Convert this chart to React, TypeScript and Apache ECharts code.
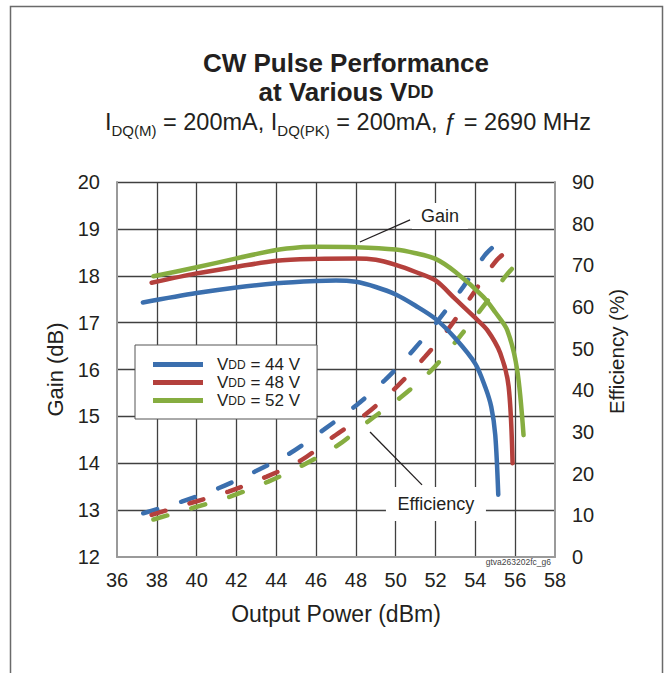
import React, { useEffect, useRef } from "react";
import * as echarts from "echarts";

// ---- data ----
const gain44X = [37.3, 40, 42, 44, 46, 47, 48, 49, 50, 51, 52, 53, 54, 54.5, 54.8, 55.0, 55.15];
const gain44Y = [17.43, 17.63, 17.75, 17.84, 17.89, 17.9, 17.87, 17.76, 17.6, 17.36, 17.08, 16.66, 16.12, 15.62, 15.2, 14.6, 13.33];

const gain48X = [37.74, 40, 42, 44, 46, 48, 49, 50, 51, 52, 53, 54, 54.6, 55.25, 55.67, 55.87];
const gain48Y = [17.85, 18.05, 18.19, 18.32, 18.36, 18.37, 18.34, 18.23, 18.08, 17.9, 17.5, 17.1, 16.84, 16.35, 15.64, 14.0];

const gain52X = [37.83, 40, 42, 44, 45.2, 46, 48, 50, 51, 52, 53, 54.4, 55, 55.6, 56.1, 56.42];
const gain52Y = [17.99, 18.18, 18.37, 18.55, 18.61, 18.62, 18.61, 18.56, 18.48, 18.36, 18.08, 17.55, 17.22, 16.84, 15.99, 14.6];

const eff44X = [37.32, 39.25, 41.09, 42.93, 44.69, 46.37, 48.04, 49.47, 50.89, 52.15, 53.4, 54.49, 55.2];
const eff44Y = [10.5, 13.3, 16.5, 20.5, 24.9, 30.5, 36.5, 42.5, 49.7, 56.9, 64.9, 72.5, 75.7];

const eff48X = [37.74, 39.67, 41.6, 43.52, 45.28, 46.87, 48.55, 50.06, 51.48, 52.73, 53.9, 55.08, 55.83];
const eff48Y = [10.1, 12.9, 15.7, 19.3, 23.3, 28.9, 34.5, 40.9, 48.1, 55.3, 63.3, 71.3, 74.1];

const eff52X = [37.83, 39.75, 41.68, 43.6, 45.36, 47.12, 48.71, 50.3, 51.81, 53.15, 54.58, 55.5, 56.17];
const eff52Y = [9.0, 11.7, 14.5, 18.1, 22.1, 26.9, 32.9, 38.5, 44.9, 52.5, 61.3, 67.3, 70.9];

const vddNames = ["44", "48", "52"];
const seriesColors = ["#3B6FAE", "#B4403C", "#86AD40"];

// annotation anchors (data space)
const gainLeader = [[48.2, 18.72], [50.72, 19.19]];
const gainLabelAt = [52.22, 19.275];
const effLeader = [[48.71, 30.0], [51.32, 17.3]];
const effLabelAt = [52.02, 12.72];

const FONT = "'Liberation Sans', Arial, Helvetica, sans-serif";
const INK = "#231f20";

export default function App() {
  const ref = useRef<HTMLDivElement>(null);

  useEffect(() => {
    const chart = echarts.init(ref.current!, null, { renderer: "svg" });
    const pair = (xs: number[], ys: number[]) => xs.map((x, i) => [x, ys[i]]);

    const gainSeries = (i: number, xs: number[], ys: number[], extra: any = {}) => ({
      type: "line",
      name: vddNames[i],
      xAxisIndex: 0,
      yAxisIndex: 0,
      data: pair(xs, ys),
      symbol: "none",
      showSymbol: false,
      smooth: 0.3,
      color: seriesColors[i],
      itemStyle: { color: seriesColors[i] },
      lineStyle: { color: seriesColors[i], width: 4.5, cap: "round", join: "round" },
      z: 3,
      silent: true,
      ...extra,
    });

    const effSeries = (i: number, xs: number[], ys: number[], extra: any = {}) => ({
      type: "line",
      name: "eff" + vddNames[i],
      xAxisIndex: 0,
      yAxisIndex: 1,
      data: pair(xs, ys),
      symbol: "none",
      showSymbol: false,
      smooth: 0.3,
      color: seriesColors[i],
      itemStyle: { color: seriesColors[i] },
      lineStyle: { color: seriesColors[i], width: 4.5, type: [14.5, 25], cap: "round" },
      z: 3,
      silent: true,
      ...extra,
    });

    const leaderStyle = { color: INK, width: 1.3, type: "solid" };

    chart.setOption({
      animation: false,
      backgroundColor: "#ffffff",
      grid: { left: 117, top: 182, width: 438, height: 375, containLabel: false },
      legend: {
        data: vddNames,
        orient: "vertical",
        left: 135,
        top: 345,
        padding: [11, 17, 10, 18],
        itemGap: 1,
        itemWidth: 50,
        itemHeight: 5,
        icon: "rect",
        backgroundColor: "#ffffff",
        borderColor: "#555555",
        borderWidth: 1,
        selectedMode: false,
        formatter: (name: string) => `{p|V}{s|DD}{v| = ${name} V}`,
        textStyle: {
          color: INK,
          fontFamily: FONT,
          fontSize: 17,
          rich: {
            p: { fontSize: 17, color: INK, fontFamily: FONT, padding: [0, 0, 0, 9], lineHeight: 20 },
            s: { fontSize: 12, color: INK, fontFamily: FONT, lineHeight: 20 },
            v: { fontSize: 17, color: INK, fontFamily: FONT, lineHeight: 20 },
          },
        },
        z: 6,
      },
      xAxis: {
        type: "value",
        min: 36,
        max: 58,
        interval: 2,
        axisLine: { show: true, lineStyle: { color: "#9a9a9a", width: 2 } },
        axisTick: { show: false },
        axisLabel: { fontSize: 20, color: INK, fontFamily: FONT, margin: 13 },
        splitLine: {
          show: true,
          showMinLine: false,
          showMaxLine: false,
          lineStyle: { color: "#404040", width: 1.3 },
        },
        name: "Output Power (dBm)",
        nameLocation: "middle",
        nameGap: 45,
        nameTextStyle: { fontSize: 23, color: INK, fontFamily: FONT },
      },
      yAxis: [
        {
          type: "value",
          position: "left",
          min: 12,
          max: 20,
          interval: 1,
          axisLine: { show: true, lineStyle: { color: "#9a9a9a", width: 2 } },
          axisTick: { show: false },
          axisLabel: { fontSize: 20, color: INK, fontFamily: FONT, margin: 17 },
          splitLine: {
            show: true,
            showMinLine: false,
            lineStyle: { color: "#404040", width: 1.3 },
          },
          name: "Gain (dB)",
          nameLocation: "middle",
          nameRotate: 90,
          nameGap: 48,
          nameTextStyle: { fontSize: 22, color: INK, fontFamily: FONT },
        },
        {
          type: "value",
          position: "right",
          min: 0,
          max: 90,
          interval: 10,
          axisLine: { show: true, lineStyle: { color: "#9a9a9a", width: 2 } },
          axisTick: { show: false },
          axisLabel: { fontSize: 20, color: INK, fontFamily: FONT, margin: 17 },
          splitLine: { show: false },
          name: "Efficiency (%)",
          nameLocation: "middle",
          nameRotate: 90,
          nameGap: 51,
          nameTextStyle: { fontSize: 20.5, color: INK, fontFamily: FONT, padding: [0, 0, 0, 36] },
        },
      ],
      series: [
        effSeries(0, eff44X, eff44Y),
        effSeries(1, eff48X, eff48Y),
        effSeries(2, eff52X, eff52Y, {
          markLine: {
            silent: true,
            symbol: ["none", "none"],
            label: { show: false },
            lineStyle: leaderStyle,
            data: [[{ coord: effLeader[0] }, { coord: effLeader[1] }]],
          },
          markPoint: {
            silent: true,
            data: [
              {
                coord: effLabelAt,
                symbol: "rect",
                symbolSize: [100, 34],
                itemStyle: { color: "#ffffff" },
                label: {
                  show: true,
                  position: "inside",
                  formatter: "Efficiency",
                  color: INK,
                  fontSize: 18,
                  fontFamily: FONT,
                },
              },
            ],
          },
        }),
        gainSeries(0, gain44X, gain44Y),
        gainSeries(1, gain48X, gain48Y),
        gainSeries(2, gain52X, gain52Y, {
          markLine: {
            silent: true,
            symbol: ["none", "none"],
            label: { show: false },
            lineStyle: leaderStyle,
            data: [[{ coord: gainLeader[0] }, { coord: gainLeader[1] }]],
          },
          markPoint: {
            silent: true,
            data: [
              {
                coord: gainLabelAt,
                symbol: "rect",
                symbolSize: [56, 26],
                itemStyle: { color: "#ffffff" },
                label: {
                  show: true,
                  position: "inside",
                  formatter: "Gain",
                  color: INK,
                  fontSize: 18,
                  fontFamily: FONT,
                },
              },
            ],
          },
        }),
      ],
      graphic: [
        {
          type: "rect",
          silent: true,
          z: -10,
          shape: { x: 10.5, y: 6.5, width: 652, height: 720 },
          style: { fill: "none", stroke: "#6a6a6a", lineWidth: 1.5 },
        },
        {
          type: "text",
          x: 346,
          y: 63,
          style: {
            text: "CW Pulse Performance",
            fill: INK,
            fontSize: 26,
            fontWeight: "bold",
            fontFamily: FONT,
            align: "center",
            verticalAlign: "middle",
          },
        },
        {
          type: "text",
          x: 346,
          y: 92,
          style: {
            text: "{b|at Various V}{s|DD}",
            fill: INK,
            fontFamily: FONT,
            align: "center",
            verticalAlign: "middle",
            rich: {
              b: { fontSize: 26, fontWeight: "bold", fill: INK, fontFamily: FONT },
              s: { fontSize: 18, fontWeight: "bold", fill: INK, fontFamily: FONT },
            },
          },
        },
        {
          type: "text",
          x: 348,
          y: 124,
          style: {
            text: "{m|I}{s|DQ(M)}{m| = 200mA, I}{s|DQ(PK)}{m| = 200mA, ƒ = 2690 MHz}",
            fill: INK,
            fontFamily: FONT,
            align: "center",
            verticalAlign: "middle",
            rich: {
              m: { fontSize: 23.5, fill: INK, fontFamily: FONT, lineHeight: 28, verticalAlign: "top" },
              s: { fontSize: 15, fill: INK, fontFamily: FONT, lineHeight: 18, verticalAlign: "bottom" },
            },
          },
        },
        {
          type: "text",
          x: 551,
          y: 562,
          style: {
            text: "gtva263202fc_g6",
            fill: "#444444",
            fontSize: 8.5,
            fontFamily: FONT,
            align: "right",
            verticalAlign: "middle",
          },
        },
      ],
    });

    return () => chart.dispose();
  }, []);

  return (
    <div
      ref={ref}
      style={{ position: "fixed", left: 0, top: 0, width: 665, height: 673 }}
    />
  );
}
